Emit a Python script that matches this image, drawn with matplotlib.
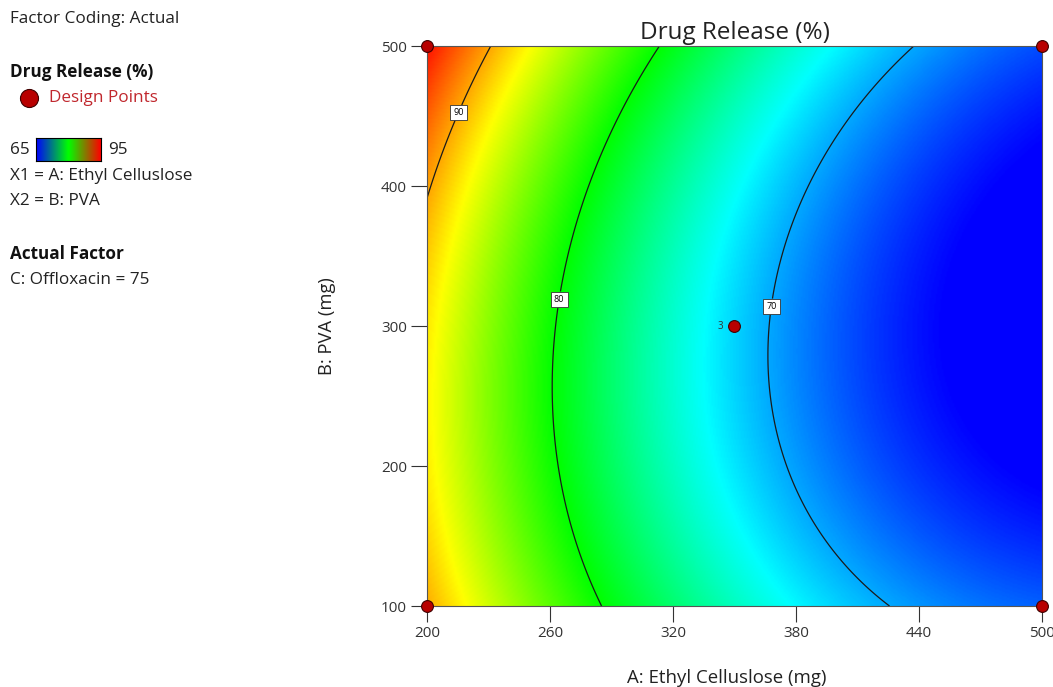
import numpy as np
import matplotlib
matplotlib.use("Agg")
import matplotlib.pyplot as plt
from matplotlib.colors import LinearSegmentedColormap

plt.rcParams["font.family"] = ["Open Sans", "DejaVu Sans"]

# quadratic model in coded units
# terms: intercept, A, B, AB, A^2, B^2
model_terms = ["1", "A", "B", "AB", "A2", "B2"]
model_coef = [71.33, -12.30, 1.00, -1.30, 4.47, 4.08]

# factor ranges (actual units)
a_low, a_high = 200, 500
b_low, b_high = 100, 500
levels = [70, 80, 90]
label_pos = [(367, 314), (264, 319), (213, 454)]

# design points
pts_a = [200, 200, 500, 500, 350]
pts_b = [100, 500, 100, 500, 300]
pts_n = ["", "", "", "", "3"]

x_ticks = [200, 260, 320, 380, 440, 500]
y_ticks = [100, 200, 300, 400, 500]

cmap = LinearSegmentedColormap.from_list(
    "de", ["#0000ff", "#00ffff", "#00ff00", "#ffff00", "#ff0000"])

fig = plt.figure(figsize=(10.53, 6.87), dpi=100)
ax = fig.add_axes([0.4055, 0.1179, 0.584, 0.815])

xg = np.linspace(a_low, a_high, 400)
yg = np.linspace(b_low, b_high, 400)
X, Y = np.meshgrid(xg, yg)
A = (X - 350) / 150
B = (Y - 300) / 200
c = dict(zip(model_terms, model_coef))
Z = c["1"] + c["A"]*A + c["B"]*B + c["AB"]*A*B + c["A2"]*A**2 + c["B2"]*B**2

ax.imshow(Z, cmap=cmap, vmin=65, vmax=95, origin="lower", aspect="auto",
          extent=[a_low, a_high, b_low, b_high], interpolation="bilinear")
cs = ax.contour(X, Y, Z, levels=levels, colors="#1a1a1a", linewidths=0.9)
txts = ax.clabel(cs, fmt="%d", fontsize=6.5, inline=True, inline_spacing=3,
                 manual=label_pos)
for t in txts:
    t.set_bbox(dict(boxstyle="square,pad=0.35", fc="white", ec="#333333", lw=0.6))
    t.set_color("black")
    t.set_rotation(0)

ax.plot(pts_a, pts_b, "o", ms=8.5, mfc="#b80000", mec="#400000", mew=0.8,
        clip_on=False, zorder=5)
for xa, yb, n in zip(pts_a, pts_b, pts_n):
    if n:
        ax.annotate(n, (xa, yb), xytext=(-8, 0), textcoords="offset points",
                    fontsize=7, ha="right", va="center", color="#333333")

ax.set_xlim(a_low, a_high)
ax.set_ylim(b_low, b_high)
ax.set_xticks(x_ticks)
ax.set_yticks(y_ticks)
ax.tick_params(length=11.5, width=0.8, color="#333333", labelsize=11,
               labelcolor="#333333", pad=3)
for s in ax.spines.values():
    s.set_color("#555555")
    s.set_linewidth(0.8)

ax.set_title("Drug Release (%)", fontsize=17.5, color="#222222", pad=5)
ax.set_xlabel("A: Ethyl Celluslose (mg)", fontsize=13.4, color="#222222", labelpad=20)
ax.xaxis.label.set_x(0.487)
ax.set_ylabel("B: PVA (mg)", fontsize=13.2, color="#222222", labelpad=32)

# left-hand information panel
def px(x, y):
    return x / 1053, 1 - y / 687

fs = 12.3
fig.text(*px(10, 19), "Factor Coding: Actual", fontsize=fs, va="center", color="#222222")
fig.text(*px(10, 72), "Drug Release (%)", fontsize=fs, va="center", weight="bold", color="#111111")
fig.lines.append(plt.Line2D([29 / 1053], [1 - 98 / 687], marker="o", ms=13,
                            mfc="#b80000", mec="#400000", mew=0.8,
                            transform=fig.transFigure))
fig.text(*px(49, 98), "Design Points", fontsize=fs, va="center", color="#c0272d")
fig.text(*px(10, 150), "65", fontsize=fs, va="center", color="#222222")
fig.text(*px(108, 150), "95", fontsize=fs, va="center", color="#222222")
cax = fig.add_axes([36 / 1053, 1 - 161 / 687, 65 / 1053, 23 / 687])
cax.imshow(np.linspace(0, 1, 200)[None, :], cmap=LinearSegmentedColormap.from_list(
    "leg", ["#0000ff", "#00ff00", "#ff0000"]), aspect="auto")
cax.set_xticks([])
cax.set_yticks([])
for s in cax.spines.values():
    s.set_linewidth(0.8)
fig.text(*px(10, 176), "X1 = A: Ethyl Celluslose", fontsize=fs, va="center", color="#222222")
fig.text(*px(10, 201), "X2 = B: PVA", fontsize=fs, va="center", color="#222222")
fig.text(*px(10, 254), "Actual Factor", fontsize=fs, va="center", weight="bold", color="#111111")
fig.text(*px(10, 280), "C: Offloxacin = 75", fontsize=fs, va="center", color="#222222")

fig.savefig("out.png")
